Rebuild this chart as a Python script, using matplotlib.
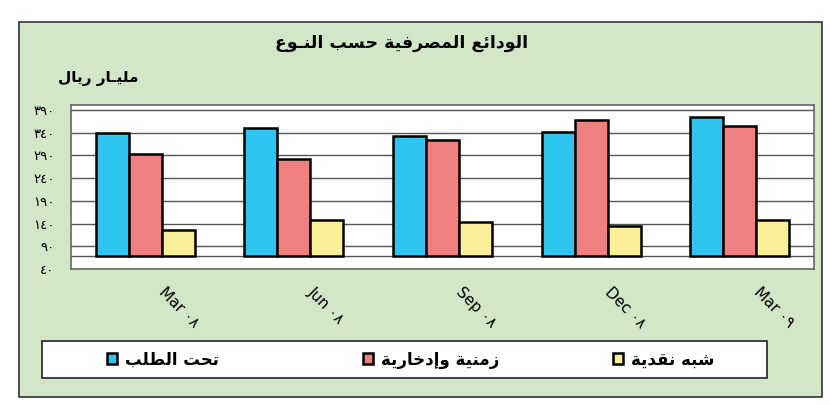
import matplotlib
matplotlib.use("Agg")
import matplotlib.pyplot as plt
import numpy as np
from matplotlib.patches import Rectangle
from matplotlib.transforms import ScaledTranslation

# ---------------- data ----------------
categories = ["Mar ٠٨", "Jun ٠٨", "Sep ٠٨", "Dec ٠٨", "Mar ٠٩"]
demand = [340, 350, 333, 342, 375]        # تحت الطلب
time_savings = [293, 283, 324, 367, 354]  # زمنية وإدخارية
quasi_money = [126, 147, 144, 135, 147]   # شبه نقدية
series_names = ["تحت الطلب", "زمنية وإدخارية", "شبه نقدية"]
y_ticks = [40, 90, 140, 190, 240, 290, 340, 390]
y_tick_labels = ["٤٠", "٩٠", "١٤٠", "١٩٠", "٢٤٠", "٢٩٠", "٣٤٠", "٣٩٠"]
title_text = "الودائع المصرفية حسب النـوع"
unit_text = "مليـار ريال"

# ---------------- simple Arabic shaping (presentation forms + RTL order) ----------------
DUAL = {'ئ': 0xFE89, 'ب': 0xFE8F, 'ت': 0xFE95, 'ث': 0xFE99, 'ج': 0xFE9D, 'ح': 0xFEA1,
        'خ': 0xFEA5, 'س': 0xFEB1, 'ش': 0xFEB5, 'ص': 0xFEB9, 'ض': 0xFEBD, 'ط': 0xFEC1,
        'ظ': 0xFEC5, 'ع': 0xFEC9, 'غ': 0xFECD, 'ف': 0xFED1, 'ق': 0xFED5, 'ك': 0xFED9,
        'ل': 0xFEDD, 'م': 0xFEE1, 'ن': 0xFEE5, 'ه': 0xFEE9, 'ي': 0xFEF1}
RIGHT = {'آ': 0xFE81, 'أ': 0xFE83, 'ؤ': 0xFE85, 'إ': 0xFE87, 'ا': 0xFE8D, 'ة': 0xFE93,
         'د': 0xFEA9, 'ذ': 0xFEAB, 'ر': 0xFEAD, 'ز': 0xFEAF, 'و': 0xFEED, 'ى': 0xFEEF}
LAMALEF = {'آ': 0xFEF5, 'أ': 0xFEF7, 'إ': 0xFEF9, 'ا': 0xFEFB}
TATWEEL = 'ـ'


def _joins_next(c):
    return c in DUAL or c == TATWEEL


def _joinable(c):
    return c in DUAL or c in RIGHT or c == TATWEEL


def shape(s):
    chars = list(s)
    n = len(chars)
    out = []
    i = 0
    while i < n:
        c = chars[i]
        prev = chars[i - 1] if i > 0 else None
        prev_con = prev is not None and _joins_next(prev) and _joinable(c)
        if c == 'ل' and i + 1 < n and chars[i + 1] in LAMALEF:
            base = LAMALEF[chars[i + 1]]
            out.append(chr(base + 1 if prev_con else base))
            i += 2
            continue
        nxt = chars[i + 1] if i + 1 < n else None
        if c in DUAL:
            next_con = nxt is not None and _joinable(nxt)
            base = DUAL[c]
            if prev_con and next_con:
                out.append(chr(base + 3))
            elif next_con:
                out.append(chr(base + 2))
            elif prev_con:
                out.append(chr(base + 1))
            else:
                out.append(chr(base))
        elif c in RIGHT:
            out.append(chr(RIGHT[c] + 1 if prev_con else RIGHT[c]))
        else:
            out.append(c)
        i += 1
    return ''.join(reversed(out))


# ---------------- style ----------------
plt.rcParams['font.family'] = ['DejaVu Sans']
colors = ["#2fc3f0", "#f07f80", "#f8ef98"]
panel_color = "#d2e6c8"
FLOOR = 68  # visual floor where the columns start
W, H = 830, 405

fig = plt.figure(figsize=(W / 100, H / 100), dpi=100)
fig.patch.set_facecolor("white")

# green panel
fig.patches.append(Rectangle((19 / W, 1 - 397 / H), 803 / W, 375 / H, transform=fig.transFigure,
                             facecolor=panel_color, edgecolor="#333333", linewidth=1.2, zorder=-3))
# legend box
fig.patches.append(Rectangle((42 / W, 1 - 378 / H), 725 / W, 37 / H, transform=fig.transFigure,
                             facecolor="white", edgecolor="#222222", linewidth=1.2, zorder=-2))

ax = fig.add_axes([71 / W, 1 - 269 / H, 743 / W, 164 / H])
ax.set_facecolor("white")

x = np.arange(len(categories))
bw = 0.222
data = [demand, time_savings, quasi_money]
handles = []
for k, (vals, col) in enumerate(zip(data, colors)):
    v = np.asarray(vals, dtype=float)
    b = ax.bar(x + (k - 1) * bw, v - FLOOR, bottom=FLOOR, width=bw, color=col,
               edgecolor="black", linewidth=1.8, zorder=3)
    handles.append(b)

ax.set_xlim(-0.5, len(categories) - 0.5)
ax.set_ylim(40, 401)
ax.set_yticks(y_ticks)
ax.set_yticklabels(y_tick_labels, fontsize=9.5)
ax.yaxis.grid(True, color="#555555", linewidth=1.0, zorder=1)
ax.axhline(FLOOR, color="#555555", linewidth=1.0, zorder=1)
ax.tick_params(axis="y", length=0, pad=12)
ax.tick_params(axis="x", length=0, pad=15)
for sp in ax.spines.values():
    sp.set_color("#666666")
    sp.set_linewidth(1.2)

ax.set_xticks(x)
ax.set_xticklabels(categories, rotation=-45, ha="left", va="center",
                   rotation_mode="anchor", fontsize=11)
for lab in ax.get_xticklabels():
    lab.set_transform(lab.get_transform() + ScaledTranslation(0.16, 0, fig.dpi_scale_trans))

# title and unit
fig.text(402 / W, 1 - 43 / H, shape(title_text), ha="center", va="center",
         fontsize=12.5, fontweight="bold")
fig.text(58 / W, 1 - 79 / H, shape(unit_text), ha="left", va="center",
         fontsize=11, fontweight="bold")

# legend entries
legend_x = [107, 363, 613]
for h, name, lx in zip(handles, series_names, legend_x):
    fig.legend([h], [shape(name)], loc="center left", bbox_to_anchor=(lx / W, 1 - 359.5 / H),
               frameon=False, handlelength=0.6, handleheight=0.6,
               handletextpad=0.5, borderpad=0, borderaxespad=0,
               prop={"weight": "bold", "size": 12})

fig.savefig("out.png", dpi=100)
